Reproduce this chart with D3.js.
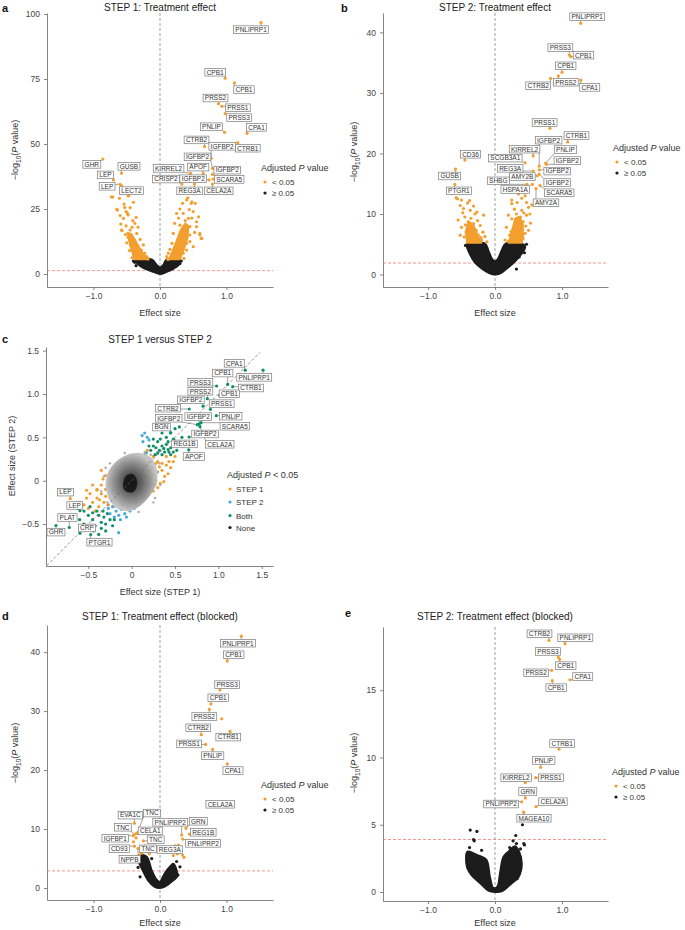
<!DOCTYPE html>
<html>
<head>
<meta charset="utf-8">
<script src="https://cdn.jsdelivr.net/npm/d3@7"></script>
<style>
  body { margin: 0; background: #fff; }
  svg { font-family: 'Liberation Sans', Arial, sans-serif; }
  .axis path, .axis line { stroke: #666; stroke-width: 0.8; }
  .axis text { fill: #444; font-size: 8.5px; }
  .title { fill: #222; font-size: 10px; }
  .axis-title { fill: #333; font-size: 9px; }
  .letter { fill: #111; font-size: 11px; font-weight: bold; }
  .gene { fill: #333; font-size: 6.5px; }
  .legend-title { fill: #333; font-size: 9px; }
  .legend-item { fill: #333; font-size: 8px; }
</style>
</head>
<body>
<svg id="fig" width="685" height="930"></svg>
<script>
const SIG = '#f29f2f';
const NS = '#1c1c1c';
const BLUE = '#48a8e2';
const GREEN = '#0f8f66';

// ---- panel a: STEP 1 treatment effect ----
const stepOneGenes = [
  { gene: 'PNLIPRP1', effect: 1.52, logp: 96.7 },
  { gene: 'CPB1', effect: 0.98, logp: 75.3 },
  { gene: 'CPB1', effect: 1.12, logp: 73.5 },
  { gene: 'PRSS2', effect: 0.88, logp: 65.5 },
  { gene: 'PRSS1', effect: 0.93, logp: 64.5 },
  { gene: 'PRSS3', effect: 0.98, logp: 61.7 },
  { gene: 'PNLIP', effect: 0.97, logp: 54.5 },
  { gene: 'CPA1', effect: 1.31, logp: 54.1 },
  { gene: 'CTRB2', effect: 0.67, logp: 49.0 },
  { gene: 'CTRB1', effect: 1.17, logp: 50.5 },
  { gene: 'IGFBP2', effect: 0.77, logp: 44.5 },
  { gene: 'IGFBP2', effect: 0.79, logp: 40.6 },
  { gene: 'KIRREL2', effect: 0.46, logp: 38.7 },
  { gene: 'APOF', effect: 0.65, logp: 38.7 },
  { gene: 'IGFBP2', effect: 0.79, logp: 38.3 },
  { gene: 'CRISP2', effect: 0.33, logp: 34.6 },
  { gene: 'IGFBP2', effect: 0.74, logp: 36.2 },
  { gene: 'SCARA5', effect: 0.8, logp: 36.5 },
  { gene: 'REG3A', effect: 0.52, logp: 34.6 },
  { gene: 'CELA2A', effect: 0.79, logp: 34.6 },
  { gene: 'GHR', effect: -0.86, logp: 44.2 },
  { gene: 'LEP', effect: -0.7, logp: 36.2 },
  { gene: 'GUSB', effect: -0.58, logp: 38.8 },
  { gene: 'LEP', effect: -0.6, logp: 34.5 },
  { gene: 'LECT2', effect: -0.58, logp: 34.0 },
];
const stepOneNudge = [
  [-10, 7], [-10, -6], [9.5, 6.7], [-3, -5.7], [16, 1.4], [14, 4], [-13, -5.6],
  [9.5, -6], [-8, -6.7], [10, 5.5], [11, -12], [-15, -11.6], [-22, -5], [-5, -6.3],
  [14.7, -4.3], [-16, -5], [-16, -1.2], [16, 0.3], [-5, 6.8], [6.3, 6.8],
  [-11, 5.3], [-8, -5], [7.5, -6.8], [-13, 2], [10, 5],
];
const stepOneSig = [
  [-0.71, 29.6], [-0.61, 29.1], [-0.48, 30.1], [-0.4, 27.6], [-0.64, 24.6], [-0.53, 25.6],
  [-0.51, 24.0], [-0.48, 22.7], [-0.55, 21.4], [-0.41, 20.5], [-0.38, 19.5], [-0.57, 16.7],
  [-0.45, 16.9], [-0.35, 15.6], [-0.3, 13.3], [-0.48, 14.1], [-0.4, 12.4], [-0.33, 10.5],
  [-0.28, 9.2], [-0.23, 8.0], [-0.2, 6.7], [-0.3, 6.7], [-0.35, 8.6], [-0.25, 11.2],
  [-0.43, 14.6], [-0.51, 18.5], [-0.59, 19.2], [-0.65, 24.9], [-0.54, 26.9], [-0.58, 16.9],
  [-0.49, 23.3], [-0.47, 30.1], [-0.73, 29.7], [-0.42, 18.0], [-0.38, 13.0], [-0.44, 11.0],
  [-0.36, 11.5], [-0.31, 8.0], [-0.26, 7.0], [-0.18, 5.8], [-0.4, 7.5], [-0.46, 9.0],
  [-0.5, 12.0], [-0.27, 6.0], [-0.22, 6.2], [-0.6, 22.5], [-0.45, 25.5], [-0.36, 21.8],
  [-0.33, 18.0], [-0.52, 15.2], [-0.42, 6.3], [-0.37, 6.0],
  [0.25, 23.3], [0.4, 28.5], [0.48, 27.8], [0.53, 27.2], [0.5, 24.0], [0.35, 23.3],
  [0.43, 21.4], [0.3, 18.8], [0.45, 18.2], [0.55, 20.1], [0.6, 15.0], [0.63, 13.7],
  [0.2, 15.6], [0.35, 14.4], [0.28, 13.1], [0.18, 11.8], [0.4, 11.8], [0.5, 10.5],
  [0.23, 9.2], [0.125, 8.0], [0.3, 7.3], [0.4, 9.2], [0.1, 6.7], [0.47, 27.2],
  [0.42, 29.3], [0.34, 27.2], [0.6, 15.6], [0.62, 13.7], [0.55, 18.2], [0.38, 20.5],
  [0.33, 16.5], [0.45, 15.0], [0.15, 9.5], [0.26, 11.0], [0.2, 7.0], [0.35, 8.0],
  [0.45, 12.5], [0.52, 16.0], [0.48, 21.5], [0.3, 25.0], [0.16, 6.0], [0.25, 6.2],
  [0.36, 6.0], [0.4, 17.0], [0.22, 19.5], [0.28, 21.5], [0.58, 22.0], [0.44, 24.8],
  [0.3, 10.2], [0.12, 5.6],
];
const stepOneSigBands = [
  [[-0.38, 5.6], [-0.43, 9], [-0.47, 13], [-0.49, 16], [-0.43, 15.5], [-0.35, 12], [-0.27, 8.5], [-0.18, 5.6]],
  [[0.13, 5.6], [0.19, 9], [0.25, 13], [0.31, 17], [0.38, 19.5], [0.43, 18.5], [0.42, 14], [0.37, 10], [0.3, 5.6]],
];
const stepOneCore = [
  [-0.36, 5.4], [-0.12, 5.5], [-0.05, 3.5], [0, 2.5], [0.05, 3.5], [0.1, 5.5], [0.3, 5.5],
  [0.28, 3.5], [0.2, 2.0], [0.1, 0.8], [0, 0], [-0.1, 0.8], [-0.22, 2.0], [-0.32, 3.5],
];
const stepOneNs = [[-0.38, 4.5], [-0.4, 5.0], [0.32, 5.0], [0.3, 4.0], [-0.36, 3.2]];

// ---- panel b: STEP 2 treatment effect ----
const stepTwoGenes = [
  { gene: 'PNLIPRP1', effect: 1.28, logp: 41.5 },
  { gene: 'PRSS3', effect: 1.11, logp: 36.25 },
  { gene: 'CPB1', effect: 1.13, logp: 36.0 },
  { gene: 'CPB1', effect: 1.0, logp: 33.4 },
  { gene: 'CTRB2', effect: 0.83, logp: 32.4 },
  { gene: 'PRSS2', effect: 0.945, logp: 32.8 },
  { gene: 'CPA1', effect: 1.28, logp: 32.1 },
  { gene: 'PRSS1', effect: 0.82, logp: 24.15 },
  { gene: 'CTRB1', effect: 1.085, logp: 21.9 },
  { gene: 'IGFBP2', effect: 0.66, logp: 17.9 },
  { gene: 'KIRREL2', effect: 0.57, logp: 19.6 },
  { gene: 'PNLIP', effect: 0.757, logp: 18.4 },
  { gene: 'SCGB3A1', effect: 0.45, logp: 18.45 },
  { gene: 'IGFBP2', effect: 0.77, logp: 18.2 },
  { gene: 'REG3A', effect: 0.57, logp: 17.1 },
  { gene: 'IGFBP2', effect: 0.66, logp: 17.3 },
  { gene: 'AMY2B', effect: 0.63, logp: 16.3 },
  { gene: 'SHBG', effect: 0.478, logp: 14.9 },
  { gene: 'IGFBP2', effect: 0.66, logp: 16.6 },
  { gene: 'HSPA1A', effect: 0.56, logp: 14.9 },
  { gene: 'SCARA5', effect: 0.672, logp: 14.7 },
  { gene: 'AMY2A', effect: 0.612, logp: 14.2 },
  { gene: 'CD36', effect: -0.45, logp: 18.9 },
  { gene: 'GUSB', effect: -0.59, logp: 17.4 },
  { gene: 'PTGR1', effect: -0.6, logp: 14.9 },
];
const stepTwoNudge = [
  [6.5, -6.6], [-9, -7.5], [12.8, -1.4], [3.7, -6.5], [-12.4, 7.4], [7.5, 6.3], [9, 7.2],
  [-5.3, -5.8], [8.8, -6.4], [9.4, -26], [-8.6, -6.7], [19.8, -13.6], [-19.8, -4.7],
  [20.8, -3.8], [-23, -2.7], [18, 1.3], [-14.8, 0.8], [-28.7, -3.5], [18, 8.5],
  [-17.2, 5.2], [19.2, 7.2], [10, 14.2], [5.6, -5.8], [-5.8, 6.8], [4.1, 6.5],
];
const stepTwoSig = [
  [-0.56, 12.5], [-0.5, 12.3], [-0.52, 11.4], [-0.47, 10.9], [-0.41, 11.8], [-0.37, 10.6],
  [-0.3, 10.0], [-0.27, 10.3], [-0.17, 9.8], [-0.45, 9.5], [-0.4, 8.7], [-0.32, 8.4],
  [-0.22, 8.1], [-0.5, 7.8], [-0.52, 6.5], [-0.43, 7.0], [-0.35, 6.8], [-0.25, 6.5],
  [-0.2, 5.7], [-0.3, 5.7], [-0.4, 5.7], [-0.12, 5.4], [-0.58, 12.7], [-0.55, 9.0],
  [-0.36, 9.3], [-0.28, 7.3], [-0.46, 6.2], [-0.38, 12.2], [-0.32, 11.3], [-0.18, 7.0],
  [-0.44, 8.2], [-0.34, 7.6], [-0.26, 8.9], [-0.48, 10.2], [-0.21, 6.1], [-0.41, 6.4],
  [-0.15, 6.3], [-0.33, 5.4],
  [0.25, 12.3], [0.25, 11.7], [0.33, 11.9], [0.47, 11.9], [0.5, 11.1], [0.4, 10.6],
  [0.32, 10.0], [0.47, 9.8], [0.35, 13.3], [0.45, 13.0], [0.52, 10.0], [0.25, 9.2],
  [0.42, 8.7], [0.17, 7.8], [0.27, 7.6], [0.37, 7.8], [0.5, 7.3], [0.22, 6.5],
  [0.15, 5.7], [0.32, 5.7], [0.42, 5.9], [0.38, 9.5], [0.3, 8.5], [0.45, 6.8],
  [0.2, 5.5], [0.36, 6.5], [0.43, 10.2], [0.29, 10.8], [0.4, 12.6], [0.55, 11.5], [0.53, 8.5],
  [0.34, 9.0], [0.28, 6.4], [0.39, 5.5], [0.46, 8.0], [0.24, 7.1], [0.2, 9.8],
];
const stepTwoSigBands = [
  [[-0.42, 5.2], [-0.44, 7.2], [-0.39, 8.8], [-0.32, 8.2], [-0.25, 6.3], [-0.2, 5.2]],
  [[0.2, 5.2], [0.25, 7.2], [0.3, 9.3], [0.37, 9.6], [0.42, 8.2], [0.42, 6.2], [0.4, 5.2]],
];
const stepTwoCore = [
  [-0.42, 5.0], [-0.15, 5.1], [-0.1, 4.0], [-0.04, 2.5], [0, 2.2], [0.04, 2.5], [0.1, 4.0],
  [0.16, 5.1], [0.4, 5.1], [0.45, 4.6], [0.4, 3.5], [0.3, 2.2], [0.2, 1.2], [0.08, 0.2],
  [0, 0], [-0.08, 0.2], [-0.2, 1.0], [-0.3, 2.0], [-0.38, 3.5],
];
const stepTwoNs = [[0.42, 4.3], [0.36, 2.9], [0.44, 3.6], [0.32, 0.9], [0.41, 4.8], [-0.44, 4.8], [0.47, 5.0]];

// ---- panel c: STEP 1 versus STEP 2 ----
const comparisonGenes = [
  { gene: 'CPA1', step1: 1.31, step2: 1.275, group: 'Both' },
  { gene: 'PNLIPRP1', step1: 1.515, step2: 1.275, group: 'Both' },
  { gene: 'CPB1', step1: 1.107, step2: 1.11, group: 'Both' },
  { gene: 'PRSS3', step1: 0.98, step2: 1.092, group: 'Both' },
  { gene: 'CTRB1', step1: 1.165, step2: 1.084, group: 'Both' },
  { gene: 'PRSS2', step1: 0.873, step2: 0.946, group: 'Both' },
  { gene: 'CPB1', step1: 1.015, step2: 0.985, group: 'Both' },
  { gene: 'IGFBP2', step1: 0.824, step2: 0.86, group: 'Both' },
  { gene: 'PRSS1', step1: 0.908, step2: 0.823, group: 'Both' },
  { gene: 'CTRB2', step1: 0.664, step2: 0.827, group: 'Both' },
  { gene: 'IGFBP2', step1: 0.779, step2: 0.655, group: 'Both' },
  { gene: 'PNLIP', step1: 0.976, step2: 0.75, group: 'Both' },
  { gene: 'IGFBP2', step1: 0.757, step2: 0.646, group: 'Both' },
  { gene: 'SCARA5', step1: 0.8, step2: 0.669, group: 'Both' },
  { gene: 'BGN', step1: 0.45, step2: 0.555, group: 'Both' },
  { gene: 'IGFBP2', step1: 0.662, step2: 0.504, group: 'Both' },
  { gene: 'REG1B', step1: 0.488, step2: 0.468, group: 'Both' },
  { gene: 'CELA2A', step1: 0.788, step2: 0.623, group: 'Both' },
  { gene: 'APOF', step1: 0.658, step2: 0.356, group: 'Both' },
  { gene: 'LEP', step1: -0.708, step2: -0.207, group: 'STEP 1' },
  { gene: 'LEP', step1: -0.596, step2: -0.346, group: 'Both' },
  { gene: 'PLAT', step1: -0.72, step2: -0.54, group: 'Both' },
  { gene: 'GHR', step1: -0.873, step2: -0.517, group: 'Both' },
  { gene: 'CRP', step1: -0.596, step2: -0.606, group: 'Both' },
  { gene: 'PTGR1', step1: -0.473, step2: -0.622, group: 'Both' },
];
const comparisonNudge = [
  [-11, -6.8], [-8.8, 7.2], [-5, -11.4], [-16.3, -3.8], [18.3, 1.3], [-7, -7.4], [9.7, -1.5],
  [-12.2, -6.3], [11.3, -5.7], [-21.3, -0.8], [-1, -7.3], [14.5, 0.5], [-28.6, -6.4],
  [33.8, 3.6], [-9.2, -5.5], [16, -3], [10.5, 3.8], [19.8, 17.6], [5.1, 6.7],
  [-4.8, -6.5], [-5.2, -5.2], [-1.8, -10], [0, 6.6], [7, -5.3], [8.8, 7.6],
];
const stepOneOnly = [
  [0.15, 0.3], [0.2, 0.25], [0.25, 0.28], [0.3, 0.22], [0.35, 0.2], [0.4, 0.18], [0.45, 0.15],
  [0.42, 0.08], [0.38, 0.05], [0.3, 0.1], [0.25, 0.15], [0.2, 0.12], [0.17, 0.05], [0.22, 0.02],
  [0.28, 0.0], [0.33, -0.03], [0.3, -0.08], [0.25, -0.12], [0.2, -0.05], [0.15, 0.18],
  [0.35, 0.12], [0.28, 0.2], [0.48, 0.22], [0.5, 0.28], [0.4, 0.28], [0.18, 0.35], [0.12, 0.1],
  [0.32, 0.16], [0.37, -0.01], [0.43, 0.22], [0.23, 0.08], [0.27, -0.04],
  [-0.45, -0.25], [-0.4, -0.2], [-0.35, -0.15], [-0.3, -0.1], [-0.28, -0.05], [-0.25, -0.02],
  [-0.32, -0.25], [-0.38, -0.3], [-0.42, -0.35], [-0.3, -0.18], [-0.25, -0.2], [-0.22, -0.12],
  [-0.2, -0.08], [-0.35, -0.05], [-0.4, -0.1], [-0.48, -0.15], [-0.52, -0.2], [-0.5, -0.32],
  [-0.27, -0.28], [-0.2, -0.25], [-0.33, 0.02], [-0.45, -0.05], [-0.55, -0.28], [-0.6, -0.25],
  [-0.18, -0.15], [-0.35, 0.12], [-0.4, -0.11], [-0.52, -0.11], [-0.3, 0.06], [-0.37, -0.22],
];
const stepTwoOnly = [
  [0.12, 0.52], [0.15, 0.55], [0.18, 0.5], [0.13, 0.45], [0.2, 0.47], [0.17, 0.32],
  [-0.22, -0.3], [-0.18, -0.35], [-0.15, -0.4], [-0.12, -0.33], [-0.08, -0.38], [-0.05, -0.3],
  [-0.1, -0.28], [-0.2, -0.42], [-0.25, -0.38], [-0.02, -0.35], [0.03, -0.32], [-0.15, -0.6],
  [-0.27, -0.32], [-0.13, -0.45], [0.05, -0.25], [-0.06, -0.42],
];
const bothSteps = [
  [0.22, 0.35], [0.25, 0.4], [0.28, 0.38], [0.3, 0.45], [0.32, 0.35], [0.35, 0.4], [0.38, 0.33],
  [0.4, 0.42], [0.42, 0.36], [0.45, 0.38], [0.48, 0.33], [0.5, 0.4], [0.52, 0.35], [0.35, 0.3],
  [0.3, 0.32], [0.27, 0.3], [0.45, 0.3], [0.4, 0.5], [0.35, 0.55], [0.45, 0.55], [0.55, 0.45],
  [0.58, 0.5], [0.6, 0.4], [0.25, 0.48], [0.2, 0.4], [0.33, 0.48], [0.38, 0.6], [0.5, 0.6],
  [0.55, 0.62], [0.42, 0.45], [0.48, 0.48], [0.37, 0.37], [0.43, 0.33],
  [-0.6, -0.45], [-0.55, -0.5], [-0.5, -0.4], [-0.45, -0.45], [-0.42, -0.52], [-0.38, -0.4],
  [-0.35, -0.48], [-0.32, -0.42], [-0.3, -0.5], [-0.28, -0.38], [-0.4, -0.35], [-0.48, -0.3],
  [-0.55, -0.35], [-0.62, -0.32], [-0.35, -0.55], [-0.25, -0.45], [-0.22, -0.52], [-0.44, -0.58],
  [-0.52, -0.55], [-0.65, -0.42], [-0.58, -0.28], [-0.3, -0.58], [-0.38, -0.62], [-0.2, -0.45],
  [-0.45, -0.37], [-0.33, -0.35],
];
const neitherOutline = [
  [-0.3, -0.06], [-0.27, 0.1], [-0.18, 0.22], [-0.05, 0.3], [0.1, 0.32], [0.22, 0.27],
  [0.29, 0.14], [0.29, -0.02], [0.22, -0.16], [0.11, -0.28], [-0.02, -0.35], [-0.15, -0.33],
  [-0.24, -0.25],
];
const neitherCore = [
  [-0.1, -0.05], [-0.07, 0.05], [0, 0.08], [0.05, 0.04], [0.06, -0.06], [0.02, -0.13],
  [-0.05, -0.13], [-0.09, -0.1],
];
const neitherSparse = [
  [-0.32, 0.05], [0.3, 0.1], [0.25, -0.25], [-0.25, 0.2], [0.33, -0.05], [-0.2, -0.3],
  [0.15, 0.33], [0.08, -0.36], [-0.35, -0.12], [0.22, 0.3], [-0.08, 0.32], [0.27, -0.2],
  [-0.28, -0.25], [0.32, 0.2], [-0.3, 0.15],
];
const comparisonTicks = [-0.5, 0, 0.5, 1.0, 1.5];

// ---- panel d: STEP 1 blocked ----
const blockedOneGenes = [
  { gene: 'PNLIPRP1', effect: 1.223, logp: 42.7 },
  { gene: 'CPB1', effect: 1.012, logp: 38.5 },
  { gene: 'PRSS3', effect: 0.902, logp: 33.56 },
  { gene: 'CPB1', effect: 0.767, logp: 31.2 },
  { gene: 'PRSS2', effect: 0.742, logp: 30.3 },
  { gene: 'CTRB2', effect: 0.621, logp: 26.0 },
  { gene: 'CTRB1', effect: 1.053, logp: 26.56 },
  { gene: 'PRSS1', effect: 0.687, logp: 24.35 },
  { gene: 'PNLIP', effect: 0.792, logp: 23.5 },
  { gene: 'CPA1', effect: 1.012, logp: 21.07 },
  { gene: 'CELA2A', effect: 0.777, logp: 14.2 },
  { gene: 'EVA1C', effect: -0.386, logp: 11.0 },
  { gene: 'TNC', effect: -0.341, logp: 9.37 },
  { gene: 'TNC', effect: -0.386, logp: 9.1 },
  { gene: 'CELA1', effect: -0.351, logp: 9.26 },
  { gene: 'IGFBP1', effect: -0.401, logp: 8.87 },
  { gene: 'TNC', effect: -0.251, logp: 8.0 },
  { gene: 'CD93', effect: -0.386, logp: 7.1 },
  { gene: 'TNC', effect: -0.226, logp: 7.17 },
  { gene: 'NPPB', effect: -0.331, logp: 6.73 },
  { gene: 'PNLIPRP2', effect: 0.326, logp: 8.98 },
  { gene: 'GRN', effect: 0.391, logp: 10.12 },
  { gene: 'REG1B', effect: 0.441, logp: 9.15 },
  { gene: 'PNLIPRP2', effect: 0.341, logp: 8.3 },
  { gene: 'REG3A', effect: 0.226, logp: 7.17 },
];
const blockedOneNudge = [
  [-3.3, 7], [6.4, -6.2], [7.2, -5.5], [7.2, -6.2], [-5, 7.2], [-3, -6.9], [-1.7, 5.7],
  [-16.5, -0.5], [0, 6.2], [5.7, 6.8], [8.5, 0], [-4, -8], [14.7, -19.7], [-11.5, -7.1],
  [13.6, -2.5], [-18.1, 2.5], [12.4, -1.2], [-15.1, 2.5], [3, 3.1], [-8.3, 10.9],
  [-11.4, -12.8], [12.3, -7.1], [14, -1.8], [20.5, 4.3], [-5.2, 3.8],
];
const blockedOneSig = [
  [-0.16, 5.8], [0.2, 5.5], [0.34, 5.6], [0.36, 5.2], [0.275, 7.3], [0.3, 7.0], [-0.275, 5.9],
  [-0.4, 7.85], [-0.31, 5.6], [0.928, 28.7], [-0.2, 6.2], [-0.36, 8.5], [0.26, 5.8],
];
const blockedOneCore = [
  [-0.31, 5.6], [-0.2, 5.3], [-0.125, 3.0], [-0.05, 1.4], [0, 1.0], [0.03, 1.6], [0.09, 2.8],
  [0.15, 3.6], [0.2, 4.1], [0.25, 3.0], [0.26, 2.0], [0.2, 1.3], [0.08, 0.3], [0, 0],
  [-0.08, 0.2], [-0.18, 1.3], [-0.26, 3.0], [-0.32, 4.5],
];
const blockedOneNs = [[-0.3, 1.9], [-0.125, 5.0], [0.25, 4.5], [0.3, 3.6], [-0.33, 3.5], [0.27, 2.2], [-0.35, 5.2]];

// ---- panel e: STEP 2 blocked ----
const blockedTwoGenes = [
  { gene: 'CTRB2', effect: 0.806, logp: 18.71 },
  { gene: 'PNLIPRP1', effect: 1.045, logp: 18.46 },
  { gene: 'PRSS3', effect: 0.945, logp: 17.45 },
  { gene: 'CPB1', effect: 0.966, logp: 17.3 },
  { gene: 'PRSS2', effect: 0.846, logp: 16.48 },
  { gene: 'CPA1', effect: 1.119, logp: 15.78 },
  { gene: 'CPB1', effect: 0.855, logp: 15.71 },
  { gene: 'CTRB1', effect: 0.955, logp: 10.61 },
  { gene: 'PNLIP', effect: 0.682, logp: 9.27 },
  { gene: 'KIRREL2', effect: 0.452, logp: 8.13 },
  { gene: 'PRSS1', effect: 0.607, logp: 8.5 },
  { gene: 'GRN', effect: 0.452, logp: 6.99 },
  { gene: 'PNLIPRP2', effect: 0.398, logp: 6.71 },
  { gene: 'CELA2A', effect: 0.612, logp: 6.34 },
  { gene: 'MAGEA10', effect: 0.428, logp: 5.93 },
];
const blockedTwoNudge = [
  [-9.5, -6.5], [10.3, -5.9], [-10.3, -5.8], [6, 6.4], [-15.5, 2.5], [12.8, -3.2], [3.9, 7],
  [3.2, -5.8], [3.1, -6.8], [-9.1, -4.9], [15.3, 0.1], [2.5, -6.5], [-20.5, 2.3], [17, -5], [10.3, 6],
];
const blockedTwoCore = [
  [-0.41, 3.0], [-0.27, 2.75], [-0.13, 2.4], [-0.075, 1.1], [-0.025, 0.3], [0.035, 0.4],
  [0.075, 1.4], [0.125, 2.6], [0.2, 3.0], [0.3, 3.4], [0.36, 3.0], [0.4, 2.1], [0.35, 1.1],
  [0.25, 0.65], [0.1, 0.05], [0, 0], [-0.1, 0.1], [-0.22, 0.65], [-0.35, 1.26], [-0.42, 1.9],
];
const blockedTwoNs = [
  [-0.37, 4.6], [-0.27, 4.5], [-0.32, 3.9], [-0.31, 3.8], [0.31, 4.2], [0.43, 3.6], [0.44, 3.5],
  [0.32, 3.6], [0.33, 1.0], [0.41, 5.0], [0.27, 3.8], [0.38, 3.2], [-0.38, 3.3], [-0.2, 3.1], [0.22, 3.3],
];

const volcanoTicksX = [-1, 0, 1];

const svg = d3.select('#fig');

const defs = svg.append('defs');
const cloudFill = defs.append('radialGradient').attr('id', 'cloud-fill');
[['0%', '#2a2a2a'], ['35%', '#555'], ['70%', '#8d8d8d'], ['100%', '#c4c4c4']].forEach((s) => {
  cloudFill.append('stop').attr('offset', s[0]).attr('stop-color', s[1]);
});

const styleAxis = (sel) => {
  sel.attr('font-size', null).attr('font-family', null);
};

const addLabels = (g, items, nudges, px, py, colorOf) => {
  const lines = g.append('g');
  const dots = g.append('g');
  const boxes = g.append('g');
  const texts = g.append('g');
  items.forEach((d, i) => {
    const x0 = px(d), y0 = py(d);
    const cx = x0 + nudges[i][0];
    const cy = y0 + nudges[i][1];
    const t = texts
      .append('text')
      .attr('class', 'gene')
      .attr('x', cx)
      .attr('y', cy)
      .attr('dy', '0.36em')
      .attr('text-anchor', 'middle')
      .text(d.gene);
    const w = t.node().getComputedTextLength() + 3.5;
    const h = 7.6;
    const rx = cx - w / 2, ry = cy - h / 2;
    boxes
      .append('rect')
      .attr('x', rx)
      .attr('y', ry)
      .attr('width', w)
      .attr('height', h)
      .attr('fill', '#fff')
      .attr('stroke', '#7a7a7a')
      .attr('stroke-width', 0.7);
    const ex = Math.max(rx, Math.min(x0, rx + w));
    const ey = Math.max(ry, Math.min(y0, ry + h));
    if (Math.hypot(ex - x0, ey - y0) > 1.5) {
      lines
        .append('line')
        .attr('x1', x0)
        .attr('y1', y0)
        .attr('x2', ex)
        .attr('y2', ey)
        .attr('stroke', '#444')
        .attr('stroke-width', 0.5);
    }
    dots
      .append('circle')
      .attr('cx', x0)
      .attr('cy', y0)
      .attr('r', 1.6)
      .attr('fill', colorOf(d));
  });
};

const addTitle = (g, text, x, y) => {
  g.append('text').attr('class', 'title').attr('x', x).attr('y', y).attr('text-anchor', 'middle').text(text);
};

const addLetter = (g, text, x, y) => {
  g.append('text').attr('class', 'letter').attr('x', x).attr('y', y).text(text);
};

const drawVolcano = (cfg) => {
  const g = svg.append('g');
  const x = d3.scaleLinear().domain(cfg.xDomain).range(cfg.xRange);
  const y = d3.scaleLinear().domain(cfg.yDomain).range(cfg.yRange);

  g.append('g')
    .attr('class', 'axis')
    .attr('transform', `translate(0,${cfg.yRange[0]})`)
    .call(d3.axisBottom(x).tickValues(volcanoTicksX).tickSize(3).tickSizeOuter(0).tickPadding(3))
    .call(styleAxis);
  g.append('g')
    .attr('class', 'axis')
    .attr('transform', `translate(${cfg.xRange[0]},0)`)
    .call(d3.axisLeft(y).tickValues(cfg.yTicks).tickSize(3).tickSizeOuter(0).tickPadding(4))
    .call(styleAxis);

  // zero line and significance threshold
  g.append('line')
    .attr('x1', x(0)).attr('x2', x(0))
    .attr('y1', cfg.yRange[1]).attr('y2', cfg.yRange[0])
    .attr('stroke', '#888').attr('stroke-width', 0.8).attr('stroke-dasharray', '3,2');
  g.append('line')
    .attr('x1', cfg.xRange[0]).attr('x2', cfg.xRange[1])
    .attr('y1', y(cfg.threshold)).attr('y2', y(cfg.threshold))
    .attr('stroke', '#ef7b7b').attr('stroke-width', 0.8).attr('stroke-dasharray', '3,2');

  const smooth = d3.line().x((d) => x(d[0])).y((d) => y(d[1])).curve(d3.curveCatmullRomClosed);
  const plain = d3.line().x((d) => x(d[0])).y((d) => y(d[1])).curve(d3.curveLinearClosed);

  g.append('path')
    .datum(cfg.core)
    .attr('d', smooth)
    .attr('fill', NS)
    .attr('stroke', NS)
    .attr('stroke-width', 2)
    .attr('stroke-linejoin', 'round');
  g.selectAll('.ns')
    .data(cfg.ns)
    .enter()
    .append('circle')
    .attr('cx', (d) => x(d[0]))
    .attr('cy', (d) => y(d[1]))
    .attr('r', 1.6)
    .attr('fill', NS);

  g.selectAll('.band')
    .data(cfg.bands)
    .enter()
    .append('path')
    .attr('d', plain)
    .attr('fill', SIG)
    .attr('stroke', SIG)
    .attr('stroke-width', 1.5)
    .attr('stroke-linejoin', 'round');
  g.selectAll('.sig')
    .data(cfg.sig)
    .enter()
    .append('circle')
    .attr('cx', (d) => x(d[0]))
    .attr('cy', (d) => y(d[1]))
    .attr('r', 1.6)
    .attr('fill', SIG);

  addLabels(g, cfg.genes, cfg.nudge, (d) => x(d.effect), (d) => y(d.logp), () => SIG);

  addTitle(g, cfg.title, x(0), cfg.titleY);
  addLetter(g, cfg.letter, cfg.letterX, cfg.letterY);

  g.append('text')
    .attr('class', 'axis-title')
    .attr('x', x(0))
    .attr('y', cfg.xLabelY)
    .attr('text-anchor', 'middle')
    .text('Effect size');

  const yl = g.append('text')
    .attr('class', 'axis-title')
    .attr('text-anchor', 'middle')
    .attr('transform', `translate(${cfg.yLabelX},${cfg.yLabelY}) rotate(-90)`);
  yl.append('tspan').text('\u2212log');
  yl.append('tspan').attr('font-size', '6.5px').attr('dy', 2.5).text('10');
  yl.append('tspan').attr('dy', -2.5).text('(');
  yl.append('tspan').attr('font-style', 'italic').text('P');
  yl.append('tspan').text(' value)');

  const lg = g.append('g').attr('transform', `translate(${cfg.legend[0]},${cfg.legend[1]})`);
  const lt = lg.append('text').attr('class', 'legend-title');
  lt.append('tspan').text('Adjusted ');
  lt.append('tspan').attr('font-style', 'italic').text('P');
  lt.append('tspan').text(' value');
  [['< 0.05', SIG], ['\u2265 0.05', NS]].forEach((item, i) => {
    lg.append('circle').attr('cx', 4).attr('cy', 11 + i * 11).attr('r', 1.6).attr('fill', item[1]);
    lg.append('text').attr('class', 'legend-item').attr('x', 11).attr('y', 14 + i * 11).text(item[0]);
  });
};

drawVolcano({
  letter: 'a', letterX: 2, letterY: 12, title: 'STEP 1: Treatment effect', titleY: 11,
  xDomain: [-1.7, 1.7], xRange: [47, 273], xLabelY: 316,
  yDomain: [-5, 100.4], yRange: [287, 13], yTicks: [0, 25, 50, 75, 100],
  threshold: 1.3, yLabelX: 18, yLabelY: 150, legend: [261, 171],
  genes: stepOneGenes, nudge: stepOneNudge, sig: stepOneSig, bands: stepOneSigBands,
  core: stepOneCore, ns: stepOneNs,
});

drawVolcano({
  letter: 'b', letterX: 341, letterY: 12, title: 'STEP 2: Treatment effect', titleY: 11,
  xDomain: [-1.672, 1.687], xRange: [383, 608], xLabelY: 316,
  yDomain: [-2.06, 43.2], yRange: [287, 13], yTicks: [0, 10, 20, 30, 40],
  threshold: 1.9, yLabelX: 357, yLabelY: 152, legend: [613, 151],
  genes: stepTwoGenes, nudge: stepTwoNudge, sig: stepTwoSig, bands: stepTwoSigBands,
  core: stepTwoCore, ns: stepTwoNs,
});

drawVolcano({
  letter: 'd', letterX: 2, letterY: 620, title: 'STEP 1: Treatment effect (blocked)', titleY: 620,
  xDomain: [-1.7, 1.7], xRange: [47, 273], xLabelY: 926,
  yDomain: [-2.03, 44.6], yRange: [900, 625], yTicks: [0, 10, 20, 30, 40],
  threshold: 2.9, yLabelX: 18, yLabelY: 753, legend: [261, 788],
  genes: blockedOneGenes, nudge: blockedOneNudge, sig: blockedOneSig, bands: [],
  core: blockedOneCore, ns: blockedOneNs,
});

drawVolcano({
  letter: 'e', letterX: 345, letterY: 617, title: 'STEP 2: Treatment effect (blocked)', titleY: 620,
  xDomain: [-1.672, 1.687], xRange: [383, 608], xLabelY: 926,
  yDomain: [-0.67, 19.7], yRange: [901, 627], yTicks: [0, 5, 10, 15],
  threshold: 3.9, yLabelX: 357, yLabelY: 763, legend: [612, 775],
  genes: blockedTwoGenes, nudge: blockedTwoNudge, sig: [], bands: [],
  core: blockedTwoCore, ns: blockedTwoNs,
});

// ---- panel c ----
const drawComparison = () => {
  const g = svg.append('g');
  const x = d3.scaleLinear().domain([-0.988, 1.63]).range([46, 273]);
  const y = d3.scaleLinear().domain([-0.984, 1.542]).range([566, 347]);
  const fmt = (d) => (d === 0 ? '0' : d3.format('.1f')(d));

  g.append('g')
    .attr('class', 'axis')
    .attr('transform', 'translate(0,566)')
    .call(d3.axisBottom(x).tickValues(comparisonTicks).tickFormat(fmt).tickSize(3).tickSizeOuter(0).tickPadding(3))
    .call(styleAxis);
  g.append('g')
    .attr('class', 'axis')
    .attr('transform', 'translate(46,0)')
    .call(d3.axisLeft(y).tickValues(comparisonTicks).tickFormat(fmt).tickSize(3).tickSizeOuter(0).tickPadding(4))
    .call(styleAxis);

  const smooth = d3.line().x((d) => x(d[0])).y((d) => y(d[1])).curve(d3.curveCatmullRomClosed);

  [[stepOneOnly, SIG], [stepTwoOnly, BLUE]].forEach((set) => {
    g.append('g')
      .selectAll('circle')
      .data(set[0])
      .enter()
      .append('circle')
      .attr('cx', (d) => x(d[0]))
      .attr('cy', (d) => y(d[1]))
      .attr('r', 1.6)
      .attr('fill', set[1]);
  });

  g.selectAll('.none')
    .data(neitherSparse)
    .enter()
    .append('circle')
    .attr('cx', (d) => x(d[0]))
    .attr('cy', (d) => y(d[1]))
    .attr('r', 1.2)
    .attr('fill', '#a8a8a8');
  g.append('path').datum(neitherOutline).attr('d', smooth).attr('fill', 'url(#cloud-fill)').attr('opacity', 0.95);
  g.append('path').datum(neitherCore).attr('d', smooth).attr('fill', '#111').attr('opacity', 0.85);

  g.append('line')
    .attr('x1', x(-0.98)).attr('y1', y(-0.98))
    .attr('x2', x(1.48)).attr('y2', y(1.48))
    .attr('stroke', '#666').attr('stroke-width', 0.7).attr('stroke-dasharray', '3,2');

  g.append('g')
    .selectAll('circle')
    .data(bothSteps)
    .enter()
    .append('circle')
    .attr('cx', (d) => x(d[0]))
    .attr('cy', (d) => y(d[1]))
    .attr('r', 1.6)
    .attr('fill', GREEN);

  const groupColor = { 'STEP 1': SIG, 'STEP 2': BLUE, Both: GREEN };
  addLabels(g, comparisonGenes, comparisonNudge, (d) => x(d.step1), (d) => y(d.step2), (d) => groupColor[d.group]);

  addTitle(g, 'STEP 1 versus STEP 2', 160, 343);
  addLetter(g, 'c', 2, 343);

  g.append('text')
    .attr('class', 'axis-title')
    .attr('x', 160)
    .attr('y', 595)
    .attr('text-anchor', 'middle')
    .text('Effect size (STEP 1)');
  g.append('text')
    .attr('class', 'axis-title')
    .attr('text-anchor', 'middle')
    .attr('transform', 'translate(15,456) rotate(-90)')
    .text('Effect size (STEP 2)');

  const lg = g.append('g').attr('transform', 'translate(227,478)');
  const lt = lg.append('text').attr('class', 'legend-title');
  lt.append('tspan').text('Adjusted ');
  lt.append('tspan').attr('font-style', 'italic').text('P');
  lt.append('tspan').text(' < 0.05');
  const items = [['STEP 1', SIG], ['STEP 2', BLUE], ['Both', GREEN], ['None', NS]];
  const rows = [11, 24, 37.5, 49.5];
  items.forEach((item, i) => {
    lg.append('circle').attr('cx', 3).attr('cy', rows[i]).attr('r', 1.6).attr('fill', item[1]);
    lg.append('text').attr('class', 'legend-item').attr('x', 9).attr('y', rows[i] + 3).text(item[0]);
  });
};

drawComparison();
</script>
</body>
</html>
